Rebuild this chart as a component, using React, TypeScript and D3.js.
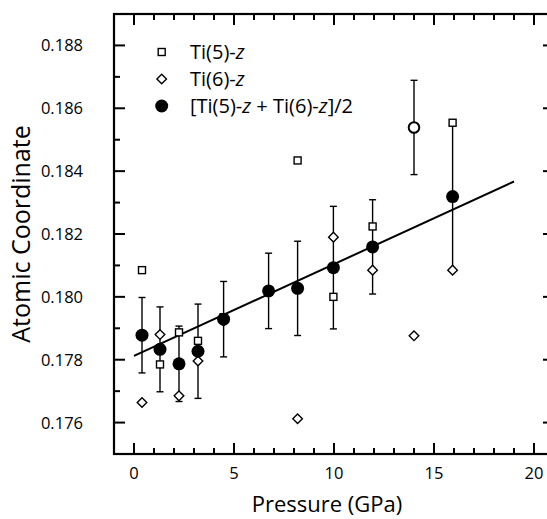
import React from "react";
import * as d3 from "d3";

const pressure = [0.4, 1.3, 2.25, 3.2, 4.48, 6.73, 8.18, 9.97, 11.93, 15.93];
const meanZ = [0.17878, 0.17833, 0.17787, 0.17827, 0.17929, 0.18019, 0.18027, 0.18093, 0.18159, 0.18319];
const meanErr = [0.0012, 0.00135, 0.0012, 0.0015, 0.0012, 0.0012, 0.0015, 0.00195, 0.0015, 0.00234];
const ti5P = [0.4, 1.3, 2.25, 3.2, 4.48, 8.18, 9.97, 11.93, 15.93];
const ti5Z = [0.18085, 0.17785, 0.17887, 0.1786, 0.17935, 0.18434, 0.18, 0.18224, 0.18554];
const ti6P = [0.4, 1.3, 2.25, 3.2, 4.48, 8.18, 9.97, 11.93, 14.0, 15.93];
const ti6Z = [0.17664, 0.1788, 0.17685, 0.17796, 0.17923, 0.17612, 0.1819, 0.18085, 0.17876, 0.18085];
const outlierP = [14.0];
const outlierZ = [0.18539];
const outlierErr = [0.0015];
const fitP = [0, 19];
const fitZ = [0.17812, 0.18367];
const xTicks = [0, 5, 10, 15, 20];
const yTicks = [0.176, 0.178, 0.18, 0.182, 0.184, 0.186, 0.188];
const legendLabels = ["Ti(5)-", "Ti(6)-"];

const W = 547;
const H = 519;
const L = 114, T = 14, R = 554, B = 454;
const FONT = "'Open Sans', 'DejaVu Sans', sans-serif";

export default function App() {
  const x = d3.scaleLinear().domain([-1, 21]).range([L, R]);
  const y = d3.scaleLinear().domain([0.175, 0.189]).range([B, T]);
  const xMinor = d3.range(-1, 22, 1).filter((v) => v % 5 !== 0);
  const yMinor = d3.range(0.175, 0.1895, 0.001).map((v) => +v.toFixed(3)).filter((v) => !yTicks.some((t) => Math.abs(t - v) < 1e-6));
  const line = d3.line<number>().x((_, i) => x(fitP[i])).y((v) => y(v));
  const cap = 3.5;
  const sq = 3.5;
  const dm = 4.8;
  const diamond = (cx: number, cy: number) => `M${cx},${cy - dm}L${cx + dm},${cy}L${cx},${cy + dm}L${cx - dm},${cy}Z`;
  const errBar = (px: number, z: number, e: number, key: string) => (
    <g key={key} stroke="#000" strokeWidth={1.4}>
      <line x1={x(px)} x2={x(px)} y1={y(z + e)} y2={y(z - e)} />
      <line x1={x(px) - cap} x2={x(px) + cap} y1={y(z + e)} y2={y(z + e)} />
      <line x1={x(px) - cap} x2={x(px) + cap} y1={y(z - e)} y2={y(z - e)} />
    </g>
  );
  return (
    <svg width={W} height={H} style={{ position: "absolute", left: 0, top: 0 }} fontFamily={FONT}>
      <rect width={W} height={H} fill="#fff" />
      <g stroke="#000" strokeWidth={2}>
        {xTicks.map((t) => (
          <g key={"xt" + t}>
            <line x1={x(t)} x2={x(t)} y1={B} y2={B - 11} />
            <line x1={x(t)} x2={x(t)} y1={T} y2={T + 11} />
          </g>
        ))}
        {xMinor.map((t) => (
          <g key={"xm" + t}>
            <line x1={x(t)} x2={x(t)} y1={B} y2={B - 6} />
            <line x1={x(t)} x2={x(t)} y1={T} y2={T + 6} />
          </g>
        ))}
        {yTicks.map((t) => (
          <g key={"yt" + t}>
            <line x1={L} x2={L + 11} y1={y(t)} y2={y(t)} />
            <line x1={R} x2={R - 11} y1={y(t)} y2={y(t)} />
          </g>
        ))}
        {yMinor.map((t) => (
          <g key={"ym" + t}>
            <line x1={L} x2={L + 6} y1={y(t)} y2={y(t)} />
            <line x1={R} x2={R - 6} y1={y(t)} y2={y(t)} />
          </g>
        ))}
      </g>
      <rect x={L} y={T} width={R - L} height={B - T} fill="none" stroke="#000" strokeWidth={2.2} />
      {xTicks.map((t) => (
        <text key={"xl" + t} x={x(t)} y={479} textAnchor="middle" fontSize={16.5}>{t}</text>
      ))}
      {yTicks.map((t) => (
        <text key={"yl" + t} x={83} y={y(t) + 6} textAnchor="end" fontSize={16.5}>{t.toFixed(3)}</text>
      ))}
      <text x={327} y={512} textAnchor="middle" fontSize={22}>Pressure (GPa)</text>
      <text transform={`translate(30,${234}) rotate(-90)`} textAnchor="middle" fontSize={25}>Atomic Coordinate</text>
      <path d={line(fitZ) || ""} fill="none" stroke="#000" strokeWidth={2} />
      {pressure.map((p, i) => errBar(p, meanZ[i], meanErr[i], "e" + i))}
      {outlierP.map((p, i) => errBar(p, outlierZ[i], outlierErr[i], "oe" + i))}
      {ti5P.map((p, i) => (
        <rect key={"s" + i} x={x(p) - sq} y={y(ti5Z[i]) - sq} width={sq * 2} height={sq * 2} fill="#fff" stroke="#000" strokeWidth={1.4} />
      ))}
      {ti6P.map((p, i) => (
        <path key={"d" + i} d={diamond(x(p), y(ti6Z[i]))} fill="#fff" stroke="#000" strokeWidth={1.4} />
      ))}
      {pressure.map((p, i) => (
        <circle key={"c" + i} cx={x(p)} cy={y(meanZ[i])} r={6.5} fill="#000" />
      ))}
      {outlierP.map((p, i) => (
        <circle key={"o" + i} cx={x(p)} cy={y(outlierZ[i])} r={5.3} fill="#fff" stroke="#000" strokeWidth={2} />
      ))}
      <rect x={161.7 - sq} y={52 - sq} width={sq * 2} height={sq * 2} fill="#fff" stroke="#000" strokeWidth={1.4} />
      <path d={diamond(161.7, 79)} fill="#fff" stroke="#000" strokeWidth={1.4} />
      <circle cx={161.7} cy={106} r={6.5} fill="#000" />
      <text x={190} y={59} fontSize={20}>{legendLabels[0]}<tspan fontStyle="italic">z</tspan></text>
      <text x={190} y={86} fontSize={20}>{legendLabels[1]}<tspan fontStyle="italic">z</tspan></text>
      <text x={190} y={113} fontSize={20}>
        [{legendLabels[0]}<tspan fontStyle="italic">z</tspan> + {legendLabels[1]}<tspan fontStyle="italic">z</tspan>]/2
      </text>
    </svg>
  );
}
